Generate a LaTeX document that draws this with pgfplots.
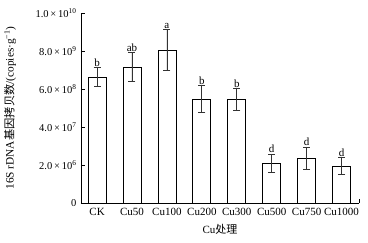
\documentclass[border=0pt]{standalone}
\usepackage{pgfplots}
\pgfplotsset{compat=1.18}
\usepackage{fontspec}
\setmainfont{Liberation Serif}
\newfontfamily\cjk{Noto Sans CJK SC}
\begin{document}
\begin{tikzpicture}[x=1pt,y=1pt]
\begin{axis}[
  at={(81pt,39pt)},
  scale only axis,
  width=278pt, height=190pt,
  xmin=-0.46, xmax=7.5,
  ymin=0, ymax=10,
  axis lines*=left,
  axis line style={line width=0.8pt},
  xtick={0,1,2,3,4,5,6,7},
  xticklabels={CK,Cu50,Cu100,Cu200,Cu300,Cu500,Cu750,Cu1000},
  x tick style={draw=none},
  ytick={0,2,4,6,8,10},
  yticklabels={0,{2.0\,×\,10\textsuperscript{6}},{4.0\,×\,10\textsuperscript{7}},{6.0\,×\,10\textsuperscript{8}},{8.0\,×\,10\textsuperscript{9}},{1.0\,×\,10\textsuperscript{10}}},
  tick align=inside,
  y tick style={line width=0.8pt, black},
  major tick length=4pt,
  tick label style={font=\fontsize{11}{13}\selectfont},
  yticklabel style={font=\fontsize{10.5}{12}\selectfont, xshift=-1pt},
  xticklabel style={yshift=-2pt},
  xlabel={Cu{\cjk 处理}},
  xlabel style={font=\fontsize{11}{13}\selectfont, yshift=-1pt},
  ylabel={16S rDNA{\cjk 基因拷贝数}/(copies·g\textsuperscript{−1})},
  ylabel style={font=\fontsize{11.3}{13}\selectfont, at={(axis description cs:0,0.5)}, anchor=center, yshift=71pt},
  clip=false,
]
\addplot[ybar, bar width=18pt, fill=white, draw=black, line width=0.8pt,
  error bars/.cd, y dir=both, y explicit,
  error bar style={line width=0.8pt, black!80},
  error mark options={rotate=90, mark size=3.5pt, line width=0.8pt, black!80}]
  coordinates {
  (0,6.63) +- (0,0.50)
  (1,7.16) +- (0,0.77)
  (2,8.05) +- (0,1.08)
  (3,5.47) +- (0,0.70)
  (4,5.45) +- (0,0.58)
  (5,2.10) +- (0,0.48)
  (6,2.37) +- (0,0.58)
  (7,1.95) +- (0,0.45)
  };
\addplot[draw=none, mark=none, nodes near coords, point meta=explicit symbolic,
  nodes near coords style={anchor=south, font=\fontsize{11}{13}\selectfont, inner sep=1pt}]
  coordinates {
  (0,7.13) [b]
  (1,7.93) [ab]
  (2,9.13) [a]
  (3,6.17) [b]
  (4,6.03) [b]
  (5,2.58) [d]
  (6,2.95) [d]
  (7,2.40) [d]
  };
\draw[line width=0.8pt] (axis cs:7.5,0) -- (axis cs:7.5,0.2);
\end{axis}
\useasboundingbox (0,0) rectangle (368,242);
\end{tikzpicture}
\end{document}
